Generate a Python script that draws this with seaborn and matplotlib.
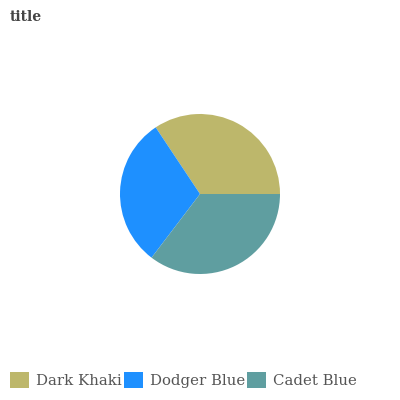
import matplotlib
matplotlib.use("Agg")
import matplotlib.pyplot as plt
import seaborn as sns

labels = ["Dark Khaki", "Dodger Blue", "Cadet Blue"]
values = [34, 30, 35]
colors = ["#BDB76B", "#1E90FF", "#5F9EA0"]

sns.set_theme(style="white")
plt.rcParams['font.family'] = ['DejaVu Serif']

fig = plt.figure(figsize=(4, 4), dpi=100)
ax = fig.add_axes([0.3, 0.315, 0.4, 0.4])
wedges, _ = ax.pie(values, colors=colors, startangle=0, counterclock=True,
                   wedgeprops={'linewidth': 0})
ax.set_xlim(-1, 1)
ax.set_ylim(-1, 1)
ax.set_aspect('equal')

fig.text(0.025, 0.948, "title", fontsize=10, fontweight='bold', color='#444444',
         family='DejaVu Serif')

leg = fig.legend(wedges, labels, loc='center left', bbox_to_anchor=(0.01, 0.05),
                 ncol=3, frameon=False, fontsize=10.7, handlelength=1.25, handleheight=1.25,
                 handletextpad=0.5, columnspacing=0.15, borderaxespad=0)
for t in leg.get_texts():
    t.set_color('#555555')

fig.savefig("out.png", dpi=100)
